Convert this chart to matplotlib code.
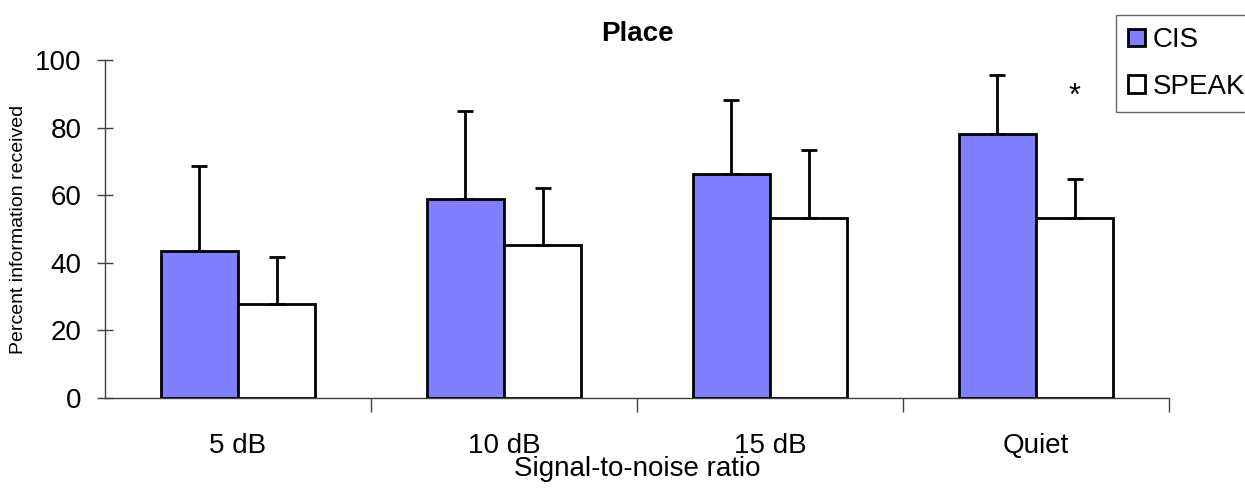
import numpy as np
from matplotlib import pyplot as plt

plt.rcParams['font.family'] = ['Liberation Sans', 'DejaVu Sans']

# data
conditions = ['5 dB', '10 dB', '15 dB', 'Quiet']
cis_mean = [43.5, 58.8, 66.2, 78.2]
cis_sd = [25.0, 26.0, 22.0, 17.3]
speak_mean = [27.8, 45.2, 53.4, 53.2]
speak_sd = [13.8, 17.0, 20.0, 11.7]

fig = plt.figure(figsize=(12.45, 4.88), dpi=100)
ax = fig.add_axes([0.0843, 0.1844, 0.8547, 0.6926])

x = np.arange(len(conditions))
w = 0.29
err_kw = dict(elinewidth=2, capsize=6, capthick=2, ecolor='black')

ax.bar(x - w / 2, cis_mean, w, color='#8080ff', edgecolor='black', linewidth=2,
       yerr=[np.zeros(4), cis_sd], error_kw=err_kw, label='CIS', zorder=3)
ax.bar(x + w / 2, speak_mean, w, color='white', edgecolor='black', linewidth=2,
       yerr=[np.zeros(4), speak_sd], error_kw=err_kw, label='SPEAK', zorder=3)

# significance marker over quiet condition
ax.text(x[3] + w / 2, 89, '*', ha='center', va='center', fontsize=22)

ax.set_xlim(-0.5, 3.5)
ax.set_ylim(0, 100)
ax.set_yticks(np.arange(0, 101, 20))
ax.tick_params(axis='y', direction='inout', length=12, width=1, color='#404040',
               labelsize=20, pad=11)
ax.set_xticks(x)
ax.set_xticklabels(conditions)
ax.set_xticks([0.5, 1.5, 2.5, 3.5], minor=True)
ax.tick_params(axis='x', which='major', length=0, labelsize=20, pad=25)
ax.tick_params(axis='x', which='minor', direction='out', length=10, width=1,
               color='#404040')

for s in ['top', 'right']:
    ax.spines[s].set_visible(False)
for s in ['left', 'bottom']:
    ax.spines[s].set_color('#404040')
    ax.spines[s].set_linewidth(1)

ax.set_ylabel('Percent information received', fontsize=14, labelpad=6)
ax.set_xlabel('Signal-to-noise ratio', fontsize=20, labelpad=-2)
ax.set_title('Place', fontsize=20, fontweight='bold', pad=14)

leg = fig.legend(loc='upper left', bbox_to_anchor=(0.896, 0.970), fontsize=20,
                 frameon=True, fancybox=False, edgecolor='#404040',
                 handlelength=0.6, handleheight=0.6, handletextpad=0.3,
                 borderpad=0.45, labelspacing=0.75, borderaxespad=0)
leg.get_frame().set_linewidth(1)

fig.savefig('out.png', dpi=100)
